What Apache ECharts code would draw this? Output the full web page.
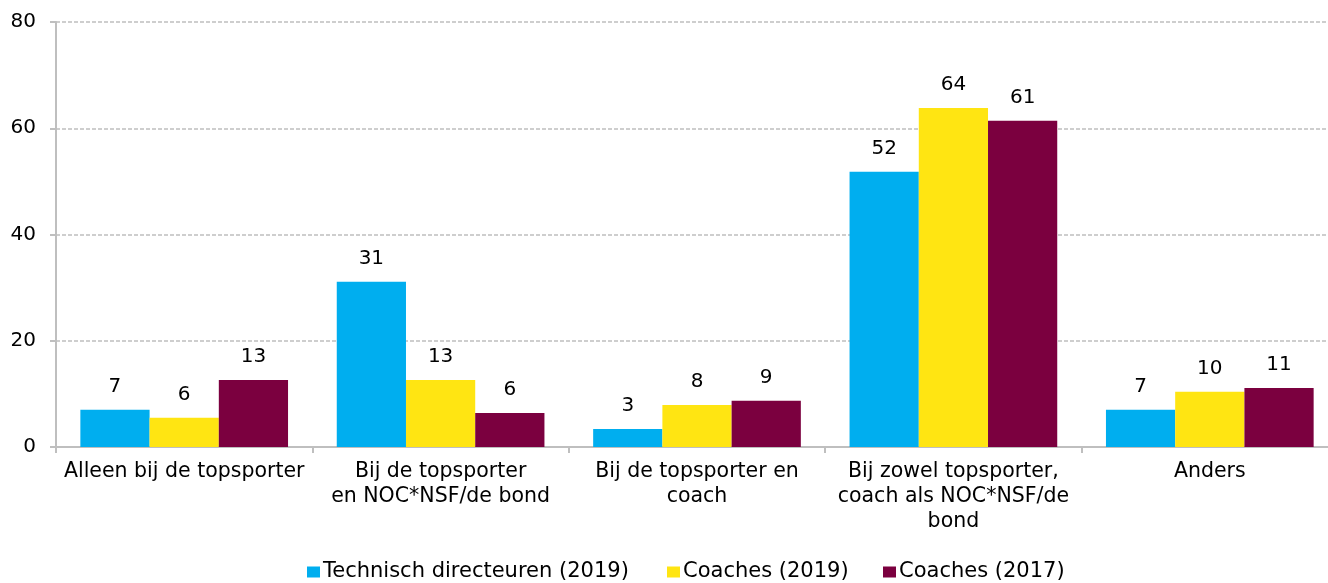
<!DOCTYPE html>
<html>
<head>
<meta charset="utf-8">
<script src="https://cdn.jsdelivr.net/npm/echarts@6/dist/echarts.min.js"></script>
<style>
  html, body { margin: 0; padding: 0; background: #fff; }
  #chart { width: 1328px; height: 583px; }
</style>
</head>
<body>
<div id="chart"></div>
<script>
// data
var categories = [
  "Alleen bij de topsporter",
  "Bij de topsporter\nen NOC*NSF/de bond",
  "Bij de topsporter en\ncoach",
  "Bij zowel topsporter,\ncoach als NOC*NSF/de\nbond",
  "Anders"
];
var seriesNames = ["Technisch directeuren (2019)", "Coaches (2019)", "Coaches (2017)"];
var tdValues = [7.0, 31.1, 3.4, 51.8, 7.0];
var coaches2019 = [5.5, 12.6, 7.9, 63.8, 10.4];
var coaches2017 = [12.6, 6.4, 8.7, 61.4, 11.1];
var yTicks = [0, 20, 40, 60, 80];

var colors = ["#00AEEF", "#FFE512", "#7B003F"];
var font = "DejaVu Sans";
var legendLeft = [307, 667, 883];

var chart = echarts.init(document.getElementById("chart"));

function makeSeries(name, values, color) {
  return {
    name: name,
    type: "bar",
    data: values,
    barGap: "0%",
    barCategoryGap: "19%",
    itemStyle: { color: color },
    label: {
      show: true,
      position: "top",
      distance: 13,
      color: "#000",
      fontFamily: font,
      fontSize: 20,
      formatter: function (p) { return Math.round(p.value); }
    }
  };
}

// one legend per item so each sits where it does in the original
var legends = seriesNames.map(function (name, i) {
  return {
    top: 560,
    left: legendLeft[i],
    padding: 0,
    itemWidth: 13,
    itemHeight: 11,
    icon: "rect",
    textStyle: { fontFamily: font, fontSize: 21, lineHeight: 24, color: "#000", padding: [0, 0, 0, -2] },
    data: [name]
  };
});

var option = {
  animation: false,
  grid: { left: 56, width: 1282, top: 22, height: 425, containLabel: false, outerBoundsMode: "none" },
  legend: legends,
  xAxis: {
    type: "category",
    data: categories,
    axisLine: { lineStyle: { color: "#BFBFBF", width: 2 } },
    axisTick: { show: true, length: 6, lineStyle: { color: "#BFBFBF", width: 2 } },
    axisLabel: {
      interval: 0,
      color: "#000",
      fontFamily: font,
      fontSize: 20.5,
      lineHeight: 25,
      margin: 12
    }
  },
  yAxis: {
    type: "value",
    min: yTicks[0],
    max: yTicks[yTicks.length - 1],
    interval: 20,
    axisLine: { show: true, lineStyle: { color: "#BFBFBF", width: 2 } },
    axisTick: { show: true, length: 6, lineStyle: { color: "#BFBFBF", width: 2 } },
    splitLine: { show: true, lineStyle: { color: "#BFBFBF", type: [4, 2], width: 1.5 } },
    axisLabel: { color: "#000", fontFamily: font, fontSize: 20, margin: 20 }
  },
  series: [
    makeSeries(seriesNames[0], tdValues, colors[0]),
    makeSeries(seriesNames[1], coaches2019, colors[1]),
    makeSeries(seriesNames[2], coaches2017, colors[2])
  ]
};

chart.setOption(option);
</script>
</body>
</html>
